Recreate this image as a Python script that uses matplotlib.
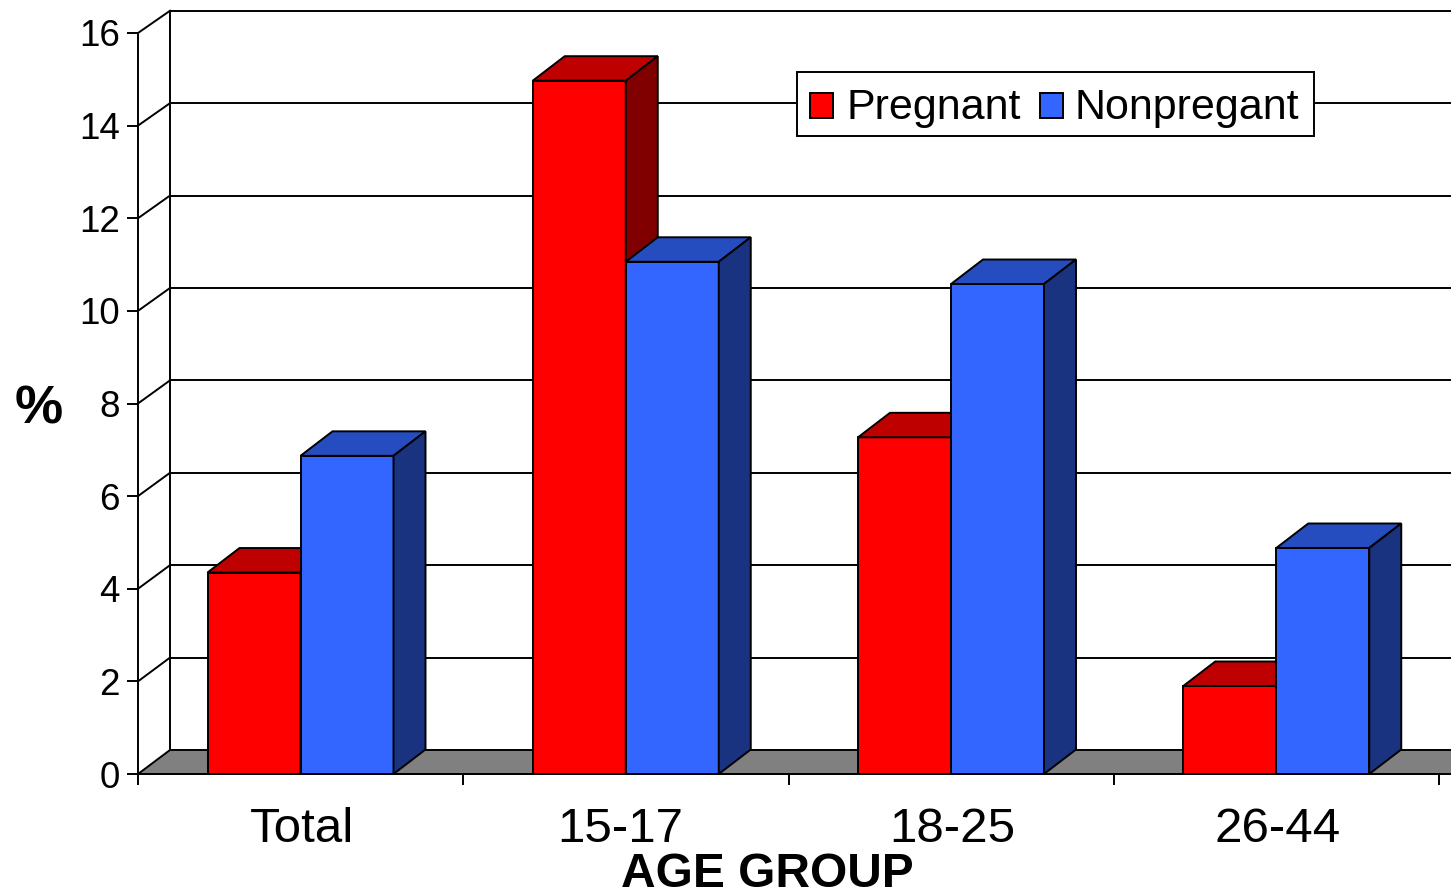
import matplotlib
matplotlib.use("Agg")
import matplotlib.pyplot as plt
from matplotlib.patches import Polygon, Rectangle

groups = ['Total', '15-17', '18-25', '26-44']
pregnant = [4.35, 14.97, 7.27, 1.90]
nonpregnant = [6.87, 11.06, 10.58, 4.88]
yticks = [0, 2, 4, 6, 8, 10, 12, 14, 16]
label_pos = [0.503, 1.482, 2.505, 3.503]

W, H = 1451, 891
plt.rcParams['font.family'] = ['Liberation Sans', 'DejaVu Sans']

fig = plt.figure(figsize=(W / 100, H / 100), dpi=100)
# axes box runs over the front plane of the chart
ax = fig.add_axes([138 / W, 1 - 774 / H, 1301 / W, 741 / H])
ax.set_xlim(0, 4)
ax.set_ylim(0, 16)
ax.patch.set_visible(False)

# depth of the fake 3d, in data units
px_x = 325.25
px_y = 46.31
dx = 32 / px_x
dy = 24.5 / px_y
wall_dy = 24 / px_y
wall_scale = 46.2 / px_y
bar_w = 93 / px_x
start = 69.5 / px_x
LW = 1.4


def add(pts, fc, z=2, ec='black', lw=LW):
    ax.add_patch(Polygon(pts, closed=True, fc=fc, ec=ec, lw=lw, zorder=z, clip_on=False))


def bar3d(x, v, front, top, side, z):
    add([(x, 0), (x + bar_w, 0), (x + bar_w, v), (x, v)], front, z)
    add([(x, v), (x + bar_w, v), (x + bar_w + dx, v + dy), (x + dx, v + dy)], top, z)
    add([(x + bar_w, 0), (x + bar_w + dx, dy), (x + bar_w + dx, v + dy), (x + bar_w, v)], side, z)


def box_px(x0, y0, x1, y1, fc, z):
    # legend parts are placed in picture pixels
    fig_box = Rectangle((x0 / W, 1 - y1 / H), (x1 - x0) / W, (y1 - y0) / H, fc=fc, ec='black',
                        lw=LW, zorder=z, transform=fig.transFigure, clip_on=False)
    ax.add_patch(fig_box)


# floor
add([(0, 0), (4.1, 0), (4.1, wall_dy), (dx, wall_dy)], '#808080', 1)

# back wall: gridlines and the two edges
for t in yticks[1:]:
    back = t * wall_scale + wall_dy
    ax.plot([dx, 4.1], [back, back], color='black', lw=LW, zorder=1, clip_on=False)
    ax.plot([0, dx], [t, back], color='black', lw=LW, zorder=1, clip_on=False)
ax.plot([dx, dx], [wall_dy, 16 * wall_scale + wall_dy], color='black', lw=LW, zorder=1, clip_on=False)

for i in range(len(groups)):
    x = i + start
    bar3d(x, pregnant[i], '#ff0000', '#bf0000', '#800000', 3 + i * 2)
    bar3d(x + bar_w, nonpregnant[i], '#3366ff', '#264dbf', '#1a3380', 4 + i * 2)

for s in ['top', 'right']:
    ax.spines[s].set_visible(False)
for s in ['left', 'bottom']:
    ax.spines[s].set_linewidth(LW)
    ax.spines[s].set_zorder(30)

ax.set_yticks(yticks)
ax.set_xticks(range(5))
ax.set_xticklabels([])
ax.set_xticks(label_pos, labels=groups, minor=True)
ax.tick_params(axis='x', which='minor', length=0, labelsize=35.5, pad=24)
ax.tick_params(axis='x', which='major', length=8, width=LW, direction='out')
ax.tick_params(axis='y', length=8, width=LW, labelsize=26.5, pad=5, direction='out')
plt.setp(ax.get_yticklabels(), va='center_baseline')

ax.text(1.934, -2.43, 'AGE GROUP', fontsize=34.5, fontweight='bold', ha='center', va='baseline', clip_on=False)
ax.text(-0.305, 7.88, '%', fontsize=39, fontweight='bold', ha='center', va='center', clip_on=False)

# legend
box_px(797, 72, 1314, 136, 'white', 20)
box_px(810, 93, 833, 118, '#ff0000', 21)
box_px(1040, 93, 1063, 118, '#3366ff', 21)
ax.text(847 / W, 1 - 119 / H, 'Pregnant', fontsize=31, ha='left', va='baseline',
        transform=fig.transFigure, zorder=22)
ax.text(1075 / W, 1 - 119 / H, 'Nonpregant', fontsize=31, ha='left', va='baseline',
        transform=fig.transFigure, zorder=22)

fig.savefig('out.png', dpi=100)
